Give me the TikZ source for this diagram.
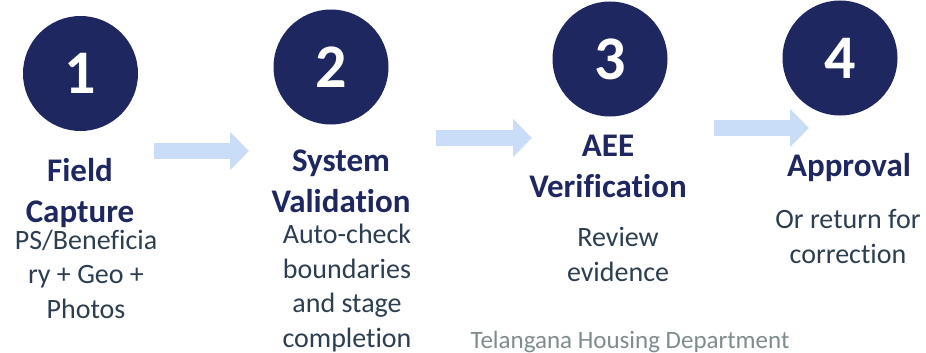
\documentclass[tikz,border=0pt]{standalone}
\usepackage{fontspec}
\setmainfont{Carlito}[Ligatures=NoCommon]
\usepackage{xcolor}
\usepackage{tikz}
\usetikzlibrary{arrows.meta, positioning}

\definecolor{stepnavy}{RGB}{31,39,96}
\definecolor{flowblue}{RGB}{201,220,248}
\definecolor{descslate}{RGB}{44,62,80}
\definecolor{footgray}{RGB}{127,140,141}

\begin{document}
\begin{tikzpicture}[x=1pt,y=-1pt,
  stepcircle/.style={circle, fill=stepnavy, minimum size=115pt, inner sep=0pt,
    text=white, font=\fontsize{62}{62}\selectfont\bfseries},
  steptitle/.style={align=center, text=stepnavy, inner sep=0pt, anchor=base,
    font=\fontsize{33}{41}\selectfont\bfseries},
  stepdesc/.style={align=center, text=descslate, inner sep=0pt, anchor=base,
    font=\fontsize{28}{34.5}\selectfont},
  flowarrow/.style={draw=flowblue, line width=16pt,
    -{Triangle[width=37pt,length=19pt]}}]
  \useasboundingbox (0,0) rectangle (926,353);

  % Step circles
  \node[stepcircle] (c1) at (80.5,73.5) {1};
  \node[stepcircle] (c2) at (331,67) {2};
  \node[stepcircle] (c3) at (610,59) {3};
  \node[stepcircle] (c4) at (840,58) {4};

  % Arrow ends
  \coordinate (a1s) at (154,151);
  \coordinate (a1e) at (249,151);
  \coordinate (a2s) at (436,138);
  \coordinate (a2e) at (532,138);
  \coordinate (a3s) at (714,128);
  \coordinate (a3e) at (809,128);

  % Arrows between steps
  \draw[flowarrow] (a1s) -- (a1e);
  \draw[flowarrow] (a2s) -- (a2e);
  \draw[flowarrow] (a3s) -- (a3e);

  % Titles (placed by the baseline of their last line)
  \node[steptitle] (t1) at (80,222) {Field\\Capture};
  \node[steptitle] (t2) at (341,212) {System\\Validation};
  \node[steptitle] (t3) at (608,197) {AEE\\Verification};
  \node[steptitle] (t4) at (849,176) {Approval};

  % Descriptions
  \node[stepdesc] (d1) at (86,318) {PS/Beneficia\\ry + Geo +\\Photos};
  \node[stepdesc] (d2) at (347,347) {Auto-check\\boundaries\\and stage\\completion};
  \node[stepdesc] (d3) at (618,281) {Review\\evidence};
  \node[stepdesc] (d4) at (848,263) {Or return for\\correction};

  % Footer
  \node[anchor=base, inner sep=0pt, text=footgray,
    font=\fontsize{25}{30}\selectfont] (foot) at (630,348) {Telangana Housing Department};
\end{tikzpicture}
\end{document}
